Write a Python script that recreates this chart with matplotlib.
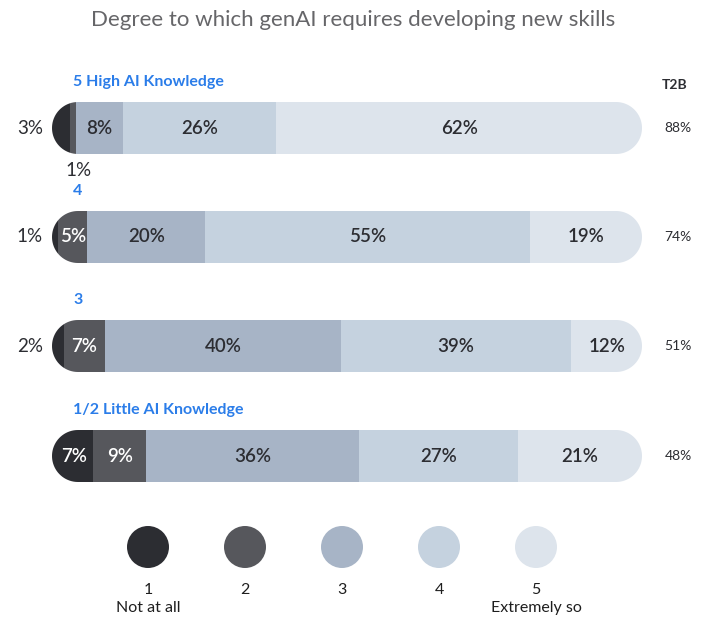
import numpy as np
import matplotlib.pyplot as plt
from matplotlib.patches import PathPatch, Circle
from matplotlib.path import Path

plt.rcParams['font.family'] = ['Lato', 'DejaVu Sans']

# Grupos (de cima para baixo) e percentuais por nível da escala 1..5
grupos = ['5 High AI Knowledge', '4', '3', '1/2 Little AI Knowledge']
valores = [
    [3, 1, 8, 26, 62],
    [1, 5, 20, 55, 19],
    [2, 7, 40, 39, 12],
    [7, 9, 36, 27, 21],
]
t2b = [88, 74, 51, 48]
niveis = ['1', '2', '3', '4', '5']
niveis_desc = ['Not at all', '', '', '', 'Extremely so']
cores = ['#2c2d32', '#56575c', '#a7b4c6', '#c5d2df', '#dde4ec']

# Eixo em unidades de "percentual": 100% = 590 px, mesma escala no eixo y
W, H = 704, 617
esc = 5.9
x0 = 52
fig = plt.figure(figsize=(W / 100, H / 100), dpi=100)
ax = fig.add_axes([0, 0, 1, 1])
ax.set_xlim(-x0 / esc, (W - x0) / esc)
ax.set_ylim(H / esc, 0)
ax.axis('off')

centros = [128 / esc, 237 / esc, 346 / esc, 456 / esc]
altura = 52 / esc
azul = '#2b7de9'
escuro = '#2c2d32'


def capsula(x_ini, x_fim, yc, h):
    """Contorno de barra com as duas pontas em semicírculo."""
    r = h / 2
    t = np.linspace(np.pi / 2, 3 * np.pi / 2, 40)
    esq = np.column_stack([x_ini + r + r * np.cos(t), yc + r * np.sin(t)])
    t2 = np.linspace(-np.pi / 2, np.pi / 2, 40)
    dir_ = np.column_stack([x_fim - r + r * np.cos(t2), yc + r * np.sin(t2)])
    pts = np.vstack([esq, dir_, esq[:1]])
    return Path(pts, closed=True)


for gi, (nome, vals, yc) in enumerate(zip(grupos, valores, centros)):
    forma = PathPatch(capsula(0, 100, yc, altura), facecolor='none',
                      edgecolor='none')
    ax.add_patch(forma)
    esquerda = 0
    for k, v in enumerate(vals):
        b = ax.barh(yc, v, left=esquerda, height=altura, color=cores[k],
                    edgecolor='none')
        for r in b:
            r.set_clip_path(forma)
        cx = esquerda + v / 2
        txt = f'{v}%'
        if k == 0 and v <= 3:
            ax.text(-22 / esc, yc, txt, ha='center', va='center',
                    fontsize=13.5, color=escuro)
        elif k == 1 and v <= 1:
            ax.text(cx + 1, yc + 43 / esc, txt, ha='center', va='center',
                    fontsize=13.5, color=escuro)
        else:
            cor_txt = 'white' if k < 2 else escuro
            if k == 0:
                cx = esquerda + v / 2 + 0.2
            ax.text(cx, yc, txt, ha='center', va='center', fontsize=13.5,
                    fontweight='semibold', color=cor_txt)
        esquerda += v

    ax.text(21 / esc, yc - 46 / esc, nome, ha='left', va='center',
            fontsize=11.5, fontweight='bold', color=azul)
    ax.text((678 - x0) / esc, yc, f'{t2b[gi]}%', ha='center', va='center',
            fontsize=10, color=escuro)

ax.text((675 - x0) / esc, 85 / esc, 'T2B', ha='center', va='center',
        fontsize=10, fontweight='bold', color=escuro)

ax.text((353 - x0) / esc, 20 / esc,
        'Degree to which genAI requires developing new skills',
        ha='center', va='center', fontsize=16, fontweight='normal',
        color='#666669')

# Legenda em círculos
leg_x = [148, 245, 342, 439, 536]
for k, px in enumerate(leg_x):
    cx = (px - x0) / esc
    ax.add_patch(Circle((cx, 547 / esc), 21 / esc, facecolor=cores[k],
                        edgecolor='none'))
    ax.text(cx, 590 / esc, niveis[k], ha='center', va='center',
            fontsize=11.5, color='#1e1e1e')
    if niveis_desc[k]:
        ax.text(cx, 608 / esc, niveis_desc[k], ha='center', va='center',
                fontsize=11.5, color='#1e1e1e')

fig.savefig('out.png', dpi=100)
